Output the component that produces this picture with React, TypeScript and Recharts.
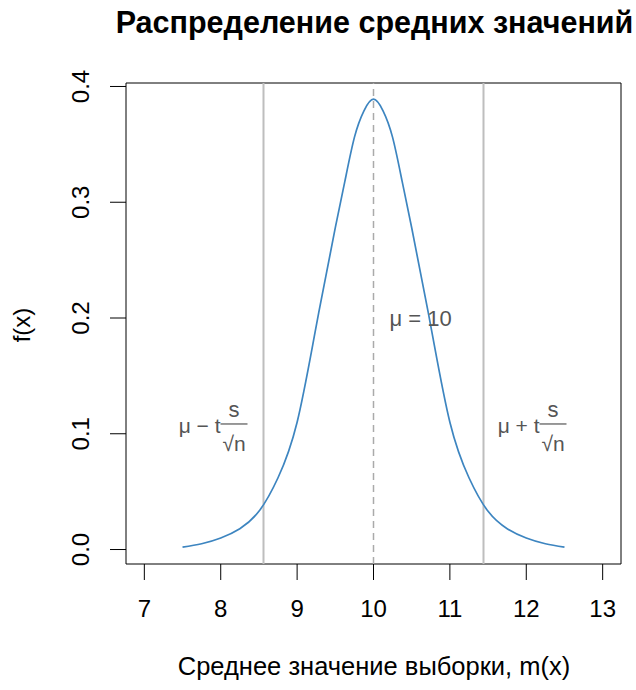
import { LineChart, Line, XAxis, YAxis, ReferenceLine, ReferenceArea, ReferenceDot } from "recharts";

// sample means (x) and density f(x)
const sampleMeans = [
  7.5, 7.75, 8, 8.25, 8.5, 8.75, 9, 9.25, 9.5, 9.625, 9.75, 9.875, 10,
  10.125, 10.25, 10.375, 10.5, 10.75, 11, 11.25, 11.5, 11.75, 12, 12.25, 12.5,
];
const density = [
  0.002, 0.005, 0.01, 0.018, 0.033, 0.062, 0.11, 0.193, 0.278, 0.318, 0.356, 0.379, 0.389,
  0.379, 0.356, 0.318, 0.278, 0.193, 0.11, 0.062, 0.033, 0.018, 0.01, 0.005, 0.002,
];

const xTicks = [7, 8, 9, 10, 11, 12, 13];
const yTicks = [0, 0.1, 0.2, 0.3, 0.4];
const xDomain = [6.76, 13.24];
const yDomain = [-0.0125, 0.403];

const mu = 10;
const lowerBound = 8.56;
const upperBound = 11.44;
const muLabelY = 0.2;
const boundLabelY = 0.105;

const data = sampleMeans.map((x, i) => ({ x, y: density[i] }));

const FONT = '"Liberation Sans", Arial, Helvetica, sans-serif';
const ANNOT = "#555555";

const XTick = ({ x, y, payload }: any) => (
  <text x={x} y={y + 35} textAnchor="middle" fontSize={24} fontFamily={FONT} fill="#000">
    {payload.value}
  </text>
);

const YTick = ({ y, payload }: any) => (
  <text
    x={81}
    y={y}
    transform={`rotate(-90, 81, ${y})`}
    textAnchor="middle"
    dy={8}
    fontSize={24}
    fontFamily={FONT}
    fill="#000"
  >
    {Number(payload.value).toFixed(1)}
  </text>
);

const MuLabel = ({ cx, cy }: any) => (
  <text x={cx + 16} y={cy + 8} fontSize={22} fontFamily={FONT} fill={ANNOT}>
    μ = 10
  </text>
);

// μ ± t·s/√n annotation, drawn next to a critical line
const Bound = ({ cx, cy, sign }: any) => {
  const left = sign === "−";
  const fracStart = left ? cx - 43 : cx + 56;
  const fracEnd = left ? cx - 16 : cx + 83;
  const mid = (fracStart + fracEnd) / 2;
  return (
    <g fontFamily={FONT} fill={ANNOT} fontSize={21}>
      <text x={fracStart} y={cy + 5} textAnchor="end">
        {`μ ${sign} t`}
      </text>
      <line x1={fracStart} x2={fracEnd} y1={cy - 4} y2={cy - 4} stroke={ANNOT} strokeWidth={1.2} />
      <text x={mid} y={cy - 11} textAnchor="middle" fontSize={22}>
        s
      </text>
      <text x={mid} y={cy + 23} textAnchor="middle">
        √n
      </text>
    </g>
  );
};

export default function App() {
  return (
    <div style={{ position: "absolute", left: 0, top: 0, width: 636, height: 690, background: "#fff" }}>
      <div
        style={{
          position: "absolute",
          left: 0,
          width: 749,
          top: 5,
          textAlign: "center",
          fontFamily: FONT,
          fontWeight: "bold",
          fontSize: 30.5,
          whiteSpace: "nowrap",
        }}
      >
        Распределение средних значений
      </div>
      <div
        style={{
          position: "absolute",
          left: 0,
          width: 748,
          top: 652,
          textAlign: "center",
          fontFamily: FONT,
          fontSize: 25.5,
          whiteSpace: "nowrap",
        }}
      >
        Среднее значение выборки, m(x)
      </div>
      <div
        style={{
          position: "absolute",
          left: 22,
          top: 325,
          transform: "translate(-50%, -50%) rotate(-90deg)",
          fontFamily: FONT,
          fontSize: 24,
          whiteSpace: "nowrap",
        }}
      >
        f(x)
      </div>
      <LineChart
        width={636}
        height={690}
        data={data}
        margin={{ top: 83, right: 15, bottom: 0, left: 26 }}
        style={{ position: "absolute", left: 0, top: 0 }}
      >
        <XAxis
          dataKey="x"
          type="number"
          domain={xDomain}
          ticks={xTicks}
          allowDataOverflow
          height={126}
          axisLine={false}
          tickSize={16}
          tickLine={{ stroke: "#000", strokeWidth: 1 }}
          tick={<XTick />}
          interval={0}
        />
        <YAxis
          type="number"
          domain={yDomain}
          ticks={yTicks}
          allowDataOverflow
          width={100}
          axisLine={false}
          tickSize={16}
          tickLine={{ stroke: "#000", strokeWidth: 1 }}
          tick={<YTick />}
          interval={0}
        />
        <ReferenceLine x={lowerBound} stroke="#bebebe" strokeWidth={2} />
        <ReferenceLine x={upperBound} stroke="#bebebe" strokeWidth={2} />
        <ReferenceLine x={mu} stroke="#aaaaaa" strokeWidth={1.5} strokeDasharray="7 5" />
        <Line
          type="natural"
          dataKey="y"
          stroke="#3d85c0"
          strokeWidth={1.7}
          dot={false}
          isAnimationActive={false}
        />
        <ReferenceDot x={mu} y={muLabelY} shape={(p: any) => <MuLabel {...p} />} />
        <ReferenceDot x={lowerBound} y={boundLabelY} shape={(p: any) => <Bound {...p} sign="−" />} />
        <ReferenceDot x={upperBound} y={boundLabelY} shape={(p: any) => <Bound {...p} sign="+" />} />
        <ReferenceArea
          x1={xDomain[0]}
          x2={xDomain[1]}
          y1={yDomain[0]}
          y2={yDomain[1]}
          fill="none"
          stroke="#000"
          strokeWidth={1}
          ifOverflow="visible"
        />
      </LineChart>
    </div>
  );
}
